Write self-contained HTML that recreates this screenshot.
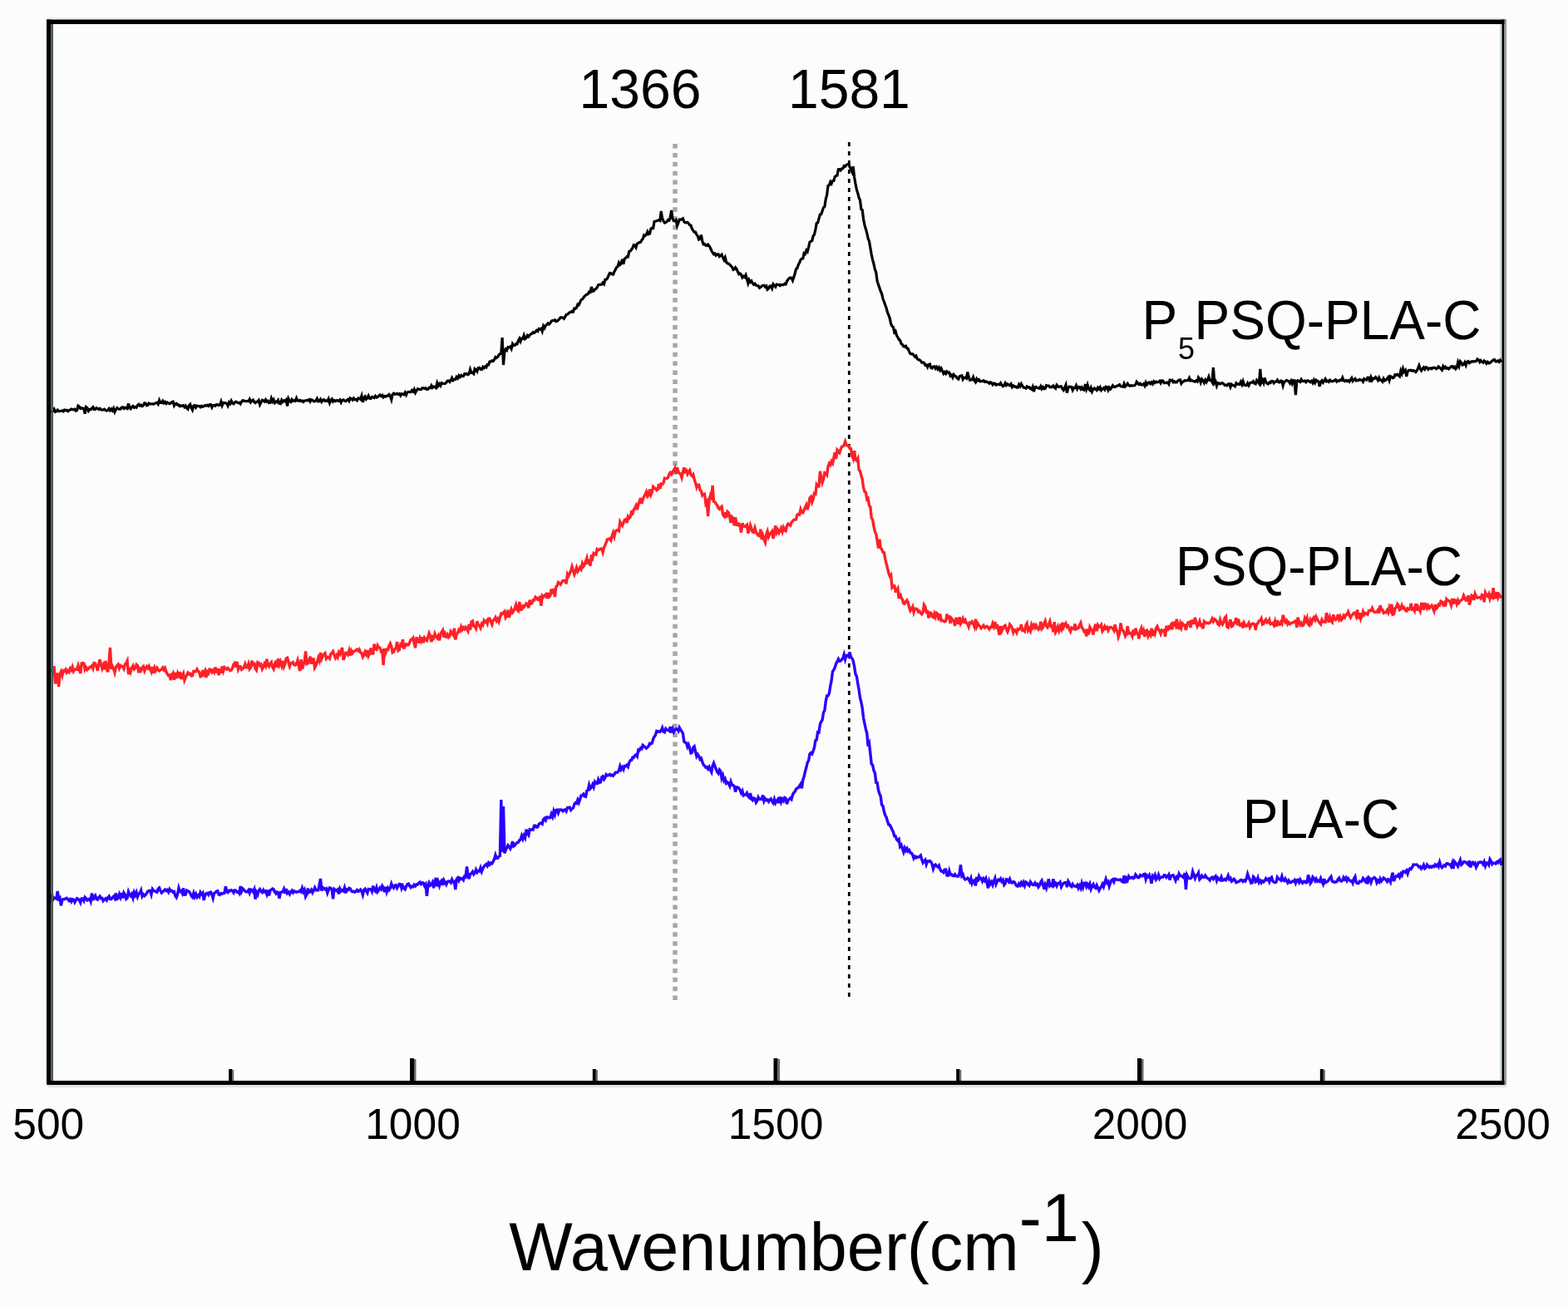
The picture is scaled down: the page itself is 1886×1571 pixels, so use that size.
<!DOCTYPE html>
<html><head><meta charset="utf-8"><style>
html,body{margin:0;padding:0;background:#fff;}
svg{display:block;}
text{font-family:"Liberation Sans",Arial,sans-serif;fill:#000;}
.tl{font-size:51.5px;}
.pk{font-size:66px;}
.lb{font-size:66px;}
.ax{font-size:81px;}
</style></head><body>
<svg width="1886" height="1571" viewBox="0 0 1886 1571">
<rect width="1886" height="1571" fill="#fcfcfc"/>
<rect x="58" y="21" width="1750" height="2" fill="#ececec"/>
<rect x="58" y="1305" width="1754" height="3" fill="#dfe3e3"/>
<rect x="1804" y="29" width="2.5" height="1271" fill="#cfdcdc"/>
<line x1="812" y1="173" x2="812" y2="1205" stroke="#a6a6a6" stroke-width="5.5" stroke-dasharray="5.5 5.4"/>
<line x1="1021.3" y1="171" x2="1021.3" y2="1204" stroke="#000" stroke-width="2.8" stroke-dasharray="5 6"/>
<polyline points="61.0,494.5 62.4,495.2 63.8,494.5 65.1,492.2 66.5,495.3 67.9,494.6 69.2,493.2 70.6,494.8 72.0,494.5 73.4,494.4 74.8,494.0 76.1,494.8 77.5,493.0 78.9,493.8 80.2,493.3 81.6,494.6 83.0,493.6 84.4,493.0 85.8,492.1 87.1,492.6 88.5,492.8 89.9,492.2 91.2,494.2 92.6,493.6 94.0,488.2 95.4,489.2 96.8,491.4 98.1,490.8 99.5,491.5 100.9,491.3 102.2,497.6 103.6,489.7 105.0,490.8 106.4,494.3 107.8,492.5 109.1,492.7 110.5,491.1 111.9,489.7 113.2,492.6 114.6,492.4 116.0,490.6 117.4,491.5 118.8,492.5 120.1,491.4 121.5,492.7 122.9,493.1 124.2,493.0 125.6,492.2 127.0,493.7 128.4,494.1 129.8,493.3 131.1,491.6 132.5,493.7 133.9,492.0 135.2,493.9 136.6,491.1 138.0,495.4 139.4,492.5 140.8,490.6 142.1,491.8 143.5,492.1 144.9,492.2 146.2,490.2 147.6,489.8 149.0,491.5 150.4,490.3 151.8,491.1 153.1,491.6 154.5,485.3 155.9,490.5 157.2,491.7 158.6,489.4 160.0,488.4 161.4,490.4 162.8,489.5 164.1,490.2 165.5,487.6 166.9,486.4 168.2,488.0 169.6,487.3 171.0,488.7 172.4,487.6 173.8,484.8 175.1,485.1 176.5,487.7 177.9,487.2 179.2,485.1 180.6,485.7 182.0,486.0 183.4,485.8 184.8,486.2 186.1,485.3 187.5,484.7 188.9,484.4 190.2,486.2 191.6,481.5 193.0,484.4 194.4,484.6 195.8,482.4 197.1,484.8 198.5,483.4 199.9,485.4 201.2,484.0 202.6,485.0 204.0,485.7 205.4,484.9 206.8,483.6 208.1,483.1 209.5,488.0 210.9,485.8 212.2,485.4 213.6,487.0 215.0,486.9 216.4,488.7 217.8,488.0 219.1,488.3 220.5,487.7 221.9,489.8 223.2,488.1 224.6,490.8 226.0,492.1 227.4,487.7 228.8,486.3 230.1,490.6 231.5,493.2 232.9,488.1 234.2,487.7 235.6,490.2 237.0,488.1 238.4,488.5 239.8,488.6 241.1,489.8 242.5,488.4 243.9,489.3 245.2,488.5 246.6,487.5 248.0,488.2 249.4,487.2 250.8,488.4 252.1,486.7 253.5,486.6 254.9,490.0 256.2,487.7 257.6,487.5 259.0,488.2 260.4,486.7 261.8,486.8 263.1,487.6 264.5,487.2 265.9,483.1 267.2,487.7 268.6,484.5 270.0,484.7 271.4,484.8 272.8,485.3 274.1,488.0 275.5,483.9 276.9,485.6 278.2,482.1 279.6,484.8 281.0,485.8 282.4,484.0 283.8,483.2 285.1,484.1 286.5,484.5 287.9,484.2 289.2,485.8 290.6,483.1 292.0,481.7 293.4,482.3 294.8,482.4 296.1,482.7 297.5,482.5 298.9,482.8 300.2,480.3 301.6,483.8 303.0,481.9 304.4,481.0 305.8,483.6 307.1,484.6 308.5,483.4 309.9,483.0 311.2,481.5 312.6,486.8 314.0,484.1 315.4,481.2 316.8,481.8 318.1,483.0 319.5,480.7 320.9,483.2 322.2,482.3 323.6,484.7 325.0,484.3 326.4,479.2 327.8,483.0 329.1,480.7 330.5,484.5 331.9,483.1 333.2,483.7 334.6,481.4 336.0,485.4 337.4,485.7 338.8,481.3 340.1,483.3 341.5,481.8 342.9,482.7 344.2,481.0 345.6,488.5 347.0,479.7 348.4,482.3 349.8,483.4 351.1,480.6 352.5,482.3 353.9,481.8 355.2,482.4 356.6,478.9 358.0,481.9 359.4,482.2 360.8,481.5 362.1,482.6 363.5,482.1 364.9,483.5 366.2,482.0 367.6,482.0 369.0,481.5 370.4,481.7 371.8,480.6 373.1,483.1 374.5,480.8 375.9,481.3 377.2,482.8 378.6,482.9 380.0,481.8 381.4,479.5 382.8,482.9 384.1,482.6 385.5,480.3 386.9,483.3 388.2,481.3 389.6,480.7 391.0,482.4 392.4,482.0 393.8,482.5 395.1,479.9 396.5,484.7 397.9,481.3 399.2,480.0 400.6,483.0 402.0,481.6 403.4,482.6 404.8,481.6 406.1,481.9 407.5,482.4 408.9,481.0 410.2,484.1 411.6,481.4 413.0,480.8 414.4,482.1 415.8,482.6 417.1,481.5 418.5,480.5 419.9,482.4 421.2,478.9 422.6,479.7 424.0,481.1 425.4,478.9 426.8,480.7 428.1,480.4 429.5,481.6 430.9,478.9 432.2,479.1 433.6,480.3 435.0,476.2 436.4,483.8 437.8,478.3 439.1,476.9 440.5,480.2 441.9,478.8 443.2,476.1 444.6,479.3 446.0,479.5 447.4,477.5 448.8,477.6 450.1,478.5 451.5,476.4 452.9,478.1 454.2,477.6 455.6,476.2 457.0,475.0 458.4,476.5 459.8,475.4 461.1,477.8 462.5,476.5 463.9,477.2 465.2,476.1 466.6,476.1 468.0,474.5 469.4,476.4 470.8,480.7 472.1,474.6 473.5,473.1 474.9,474.3 476.2,473.9 477.6,473.4 479.0,474.4 480.4,473.7 481.8,475.9 483.1,473.7 484.5,474.0 485.9,474.7 487.2,472.3 488.6,475.1 490.0,471.9 491.4,471.3 492.8,471.6 494.1,471.6 495.5,469.5 496.9,471.0 498.2,468.4 499.6,472.4 501.0,470.0 502.4,467.8 503.8,468.1 505.1,468.5 506.5,468.4 507.9,466.9 509.2,466.8 510.6,467.5 512.0,466.7 513.4,468.4 514.8,468.3 516.1,466.4 517.5,466.7 518.9,463.8 520.2,466.3 521.6,465.0 523.0,465.4 524.4,466.6 525.8,460.8 527.1,464.1 528.5,461.8 529.9,463.9 531.2,460.6 532.6,461.2 534.0,461.5 535.4,461.5 536.8,460.1 538.1,458.3 539.5,458.0 540.9,459.5 542.2,457.6 543.6,454.6 545.0,457.6 546.4,456.4 547.8,456.4 549.1,453.5 550.5,455.1 551.9,451.9 553.2,453.6 554.6,451.5 556.0,452.6 557.4,452.5 558.8,449.6 560.1,450.0 561.5,449.6 562.9,450.7 564.2,449.6 565.6,444.3 567.0,448.2 568.4,448.1 569.8,449.5 571.1,443.7 572.5,444.8 573.9,446.9 575.2,442.6 576.6,442.3 578.0,444.2 579.4,444.4 580.8,441.5 582.1,442.7 583.5,440.9 584.9,441.8 586.2,438.5 587.6,438.8 589.0,435.0 590.4,434.9 591.8,433.9 593.1,434.5 594.5,432.6 595.9,429.6 597.2,430.5 598.6,429.5 600.0,426.9 601.4,425.8 602.8,424.8 604.1,406.0 605.5,439.0 606.9,422.5 608.2,420.0 609.6,421.4 611.0,417.5 612.4,417.8 613.8,417.0 615.1,419.5 616.5,413.6 617.9,415.7 619.2,415.4 620.6,413.7 622.0,413.9 623.4,410.0 624.8,407.3 626.1,410.6 627.5,407.0 628.9,407.3 630.2,403.3 631.6,407.6 633.0,406.5 634.4,403.5 635.8,404.9 637.1,403.0 638.5,401.8 639.9,401.3 641.2,399.8 642.6,400.4 644.0,399.2 645.4,397.4 646.8,398.5 648.1,395.4 649.5,395.9 650.9,395.2 652.2,398.4 653.6,392.3 655.0,394.6 656.4,391.6 657.8,390.4 659.1,389.0 660.5,390.1 661.9,388.6 663.2,386.3 664.6,385.6 666.0,385.7 667.4,384.9 668.8,386.7 670.1,386.4 671.5,385.0 672.9,383.6 674.2,381.8 675.6,381.8 677.0,382.2 678.4,383.3 679.8,380.9 681.1,378.5 682.5,378.3 683.9,376.9 685.2,375.8 686.6,375.5 688.0,374.4 689.4,375.1 690.8,371.0 692.1,371.2 693.5,370.1 694.9,366.2 696.2,366.7 697.6,363.8 699.0,360.6 700.4,360.0 701.8,358.2 703.1,356.4 704.5,355.0 705.9,354.1 707.2,353.7 708.6,351.1 710.0,351.5 711.4,345.0 712.8,350.3 714.1,350.0 715.5,348.1 716.9,347.4 718.2,345.9 719.6,342.8 721.0,342.3 722.4,342.3 723.8,342.0 725.1,340.1 726.5,341.7 727.9,336.3 729.2,336.2 730.6,334.8 732.0,331.5 733.4,328.5 734.8,328.6 736.1,329.8 737.5,330.1 738.9,326.8 740.2,324.5 741.6,321.6 743.0,320.8 744.4,316.0 745.8,318.4 747.1,317.1 748.5,311.9 749.9,317.8 751.2,311.4 752.6,310.4 754.0,308.7 755.4,308.9 756.8,302.3 758.1,302.0 759.5,300.2 760.9,298.2 762.2,294.6 763.6,295.0 765.0,297.6 766.4,292.9 767.8,292.4 769.1,291.6 770.5,291.3 771.9,288.8 773.2,287.5 774.6,282.9 776.0,283.6 777.4,282.4 778.8,278.9 780.1,281.7 781.5,281.1 782.9,275.1 784.2,274.5 785.6,274.7 787.0,266.4 788.4,266.3 789.8,265.5 791.1,265.5 792.5,264.7 793.9,265.5 795.2,254.0 796.6,262.8 798.0,265.8 799.4,268.1 800.8,267.6 802.1,266.7 803.5,264.5 804.9,265.1 806.2,261.5 807.6,253.0 809.0,262.9 810.4,265.7 811.8,265.9 813.1,264.8 814.5,271.5 815.9,268.0 817.2,264.1 818.6,264.4 820.0,263.6 821.4,262.8 822.8,266.8 824.1,267.8 825.5,267.6 826.9,267.4 828.2,268.7 829.6,270.9 831.0,271.2 832.4,275.2 833.8,277.3 835.1,279.2 836.5,279.2 837.9,282.2 839.2,283.9 840.6,288.1 842.0,287.3 843.4,282.6 844.8,290.3 846.1,293.8 847.5,293.5 848.9,295.3 850.2,295.6 851.6,294.1 853.0,295.9 854.4,298.3 855.8,301.5 857.1,303.7 858.5,305.8 859.9,304.9 861.2,307.2 862.6,305.9 864.0,305.7 865.4,308.5 866.8,307.4 868.1,306.2 869.5,309.8 870.9,312.7 872.2,309.8 873.6,315.2 875.0,316.9 876.4,317.0 877.8,318.5 879.1,319.8 880.5,321.2 881.9,324.4 883.2,323.9 884.6,321.8 886.0,323.5 887.4,326.8 888.8,329.8 890.1,329.0 891.5,330.3 892.9,333.8 894.2,332.4 895.6,333.4 897.0,330.8 898.4,335.7 899.8,340.8 901.1,336.8 902.5,339.3 903.9,337.9 905.2,340.6 906.6,342.3 908.0,341.3 909.4,343.2 910.8,343.8 912.1,343.9 913.5,346.3 914.9,345.5 916.2,344.1 917.6,343.5 919.0,343.3 920.4,345.2 921.8,344.0 923.1,348.3 924.5,347.1 925.9,344.2 927.2,344.0 928.6,346.9 930.0,341.8 931.4,343.5 932.8,345.1 934.1,342.2 935.5,342.5 936.9,342.4 938.2,343.6 939.6,342.5 941.0,342.6 942.4,342.6 943.8,341.4 945.1,341.9 946.5,338.3 947.9,336.3 949.2,334.8 950.6,334.0 952.0,334.4 953.4,337.4 954.8,333.4 956.1,329.3 957.5,323.5 958.9,322.6 960.2,318.6 961.6,316.1 963.0,312.4 964.4,311.2 965.8,310.9 967.1,304.6 968.5,305.5 969.9,301.1 971.2,302.6 972.6,297.4 974.0,291.2 975.4,290.3 976.8,289.5 978.1,283.9 979.5,282.1 980.9,276.0 982.2,268.6 983.6,267.9 985.0,262.9 986.4,258.0 987.8,257.7 989.1,253.7 990.5,249.6 991.9,248.5 993.2,239.5 994.6,234.7 996.0,223.4 997.4,222.8 998.8,218.9 1000.1,220.9 1001.5,217.5 1002.9,217.5 1004.2,212.7 1005.6,211.5 1007.0,211.1 1008.4,203.7 1009.8,203.6 1011.1,204.9 1012.5,203.0 1013.9,202.6 1015.2,199.7 1016.6,200.3 1018.0,198.5 1019.4,197.6 1020.8,197.1 1022.1,200.8 1023.5,203.5 1024.9,206.7 1026.2,200.1 1027.6,213.0 1029.0,221.1 1030.4,228.2 1031.8,232.5 1033.1,237.7 1034.5,240.8 1035.9,251.9 1037.2,252.5 1038.6,263.7 1040.0,270.9 1041.4,275.4 1042.8,280.5 1044.1,286.9 1045.5,290.3 1046.9,298.6 1048.2,306.0 1049.6,312.3 1051.0,317.7 1052.4,324.1 1053.8,328.0 1055.1,338.0 1056.5,342.4 1057.9,346.2 1059.2,350.3 1060.6,353.3 1062.0,359.6 1063.4,363.0 1064.8,367.0 1066.1,370.5 1067.5,376.0 1068.9,379.2 1070.2,382.8 1071.6,389.4 1073.0,392.5 1074.4,393.5 1075.8,399.7 1077.1,398.4 1078.5,403.5 1079.9,405.7 1081.2,408.5 1082.6,409.2 1084.0,413.5 1085.4,414.4 1086.8,416.8 1088.1,417.0 1089.5,416.2 1090.9,419.0 1092.2,419.3 1093.6,423.0 1095.0,425.6 1096.4,425.8 1097.8,425.8 1099.1,427.3 1100.5,429.2 1101.9,428.1 1103.2,431.5 1104.6,432.7 1106.0,432.8 1107.4,434.2 1108.8,436.2 1110.1,435.9 1111.5,436.5 1112.9,439.3 1114.2,439.1 1115.6,441.7 1117.0,438.5 1118.4,438.0 1119.8,442.4 1121.1,443.0 1122.5,441.2 1123.9,440.8 1125.2,443.3 1126.6,441.5 1128.0,444.1 1129.4,442.1 1130.8,445.3 1132.1,443.2 1133.5,446.4 1134.9,449.4 1136.2,447.5 1137.6,449.5 1139.0,446.9 1140.4,448.3 1141.8,448.0 1143.1,452.1 1144.5,451.1 1145.9,454.0 1147.2,450.6 1148.6,452.3 1150.0,453.0 1151.4,455.1 1152.8,456.0 1154.1,452.8 1155.5,452.3 1156.9,451.8 1158.2,456.3 1159.6,454.3 1161.0,454.0 1162.4,455.1 1163.8,447.5 1165.1,453.3 1166.5,457.3 1167.9,456.8 1169.2,456.7 1170.6,453.6 1172.0,457.8 1173.4,459.7 1174.8,455.8 1176.1,457.8 1177.5,456.6 1178.9,458.8 1180.2,458.6 1181.6,458.6 1183.0,457.8 1184.4,459.3 1185.8,458.7 1187.1,459.6 1188.5,460.0 1189.9,461.3 1191.2,459.8 1192.6,460.4 1194.0,462.7 1195.4,461.1 1196.8,461.3 1198.1,463.1 1199.5,462.4 1200.9,462.3 1202.2,462.6 1203.6,460.7 1205.0,463.2 1206.4,464.6 1207.8,463.6 1209.1,460.8 1210.5,463.5 1211.9,462.0 1213.2,463.0 1214.6,463.7 1216.0,461.9 1217.4,465.6 1218.8,463.8 1220.1,465.1 1221.5,465.0 1222.9,466.1 1224.2,466.1 1225.6,462.5 1227.0,464.7 1228.4,461.8 1229.8,464.3 1231.1,466.0 1232.5,466.4 1233.9,467.1 1235.2,464.9 1236.6,466.0 1238.0,465.8 1239.4,467.6 1240.8,468.2 1242.1,465.4 1243.5,471.2 1244.9,465.8 1246.2,465.3 1247.6,466.6 1249.0,466.8 1250.4,467.3 1251.8,464.7 1253.1,467.7 1254.5,465.6 1255.9,467.7 1257.2,467.4 1258.6,463.7 1260.0,464.0 1261.4,464.0 1262.8,465.7 1264.1,465.4 1265.5,465.6 1266.9,464.1 1268.2,465.8 1269.6,467.1 1271.0,463.2 1272.4,464.8 1273.8,465.4 1275.1,464.8 1276.5,464.8 1277.9,467.7 1279.2,469.3 1280.6,466.7 1282.0,463.2 1283.4,472.6 1284.8,466.3 1286.1,465.1 1287.5,465.6 1288.9,465.5 1290.2,469.3 1291.6,466.7 1293.0,466.7 1294.4,463.7 1295.8,467.8 1297.1,465.4 1298.5,465.5 1299.9,468.0 1301.2,466.1 1302.6,468.6 1304.0,469.1 1305.4,462.1 1306.8,467.6 1308.1,463.0 1309.5,467.9 1310.9,469.4 1312.2,466.4 1313.6,470.9 1315.0,468.1 1316.4,467.0 1317.8,468.4 1319.1,469.5 1320.5,466.3 1321.9,468.0 1323.2,465.9 1324.6,469.4 1326.0,467.7 1327.4,466.7 1328.8,468.6 1330.1,465.1 1331.5,465.5 1332.9,469.2 1334.2,466.2 1335.6,468.1 1337.0,466.3 1338.4,463.7 1339.8,465.3 1341.1,465.6 1342.5,464.7 1343.9,464.0 1345.2,463.8 1346.6,462.7 1348.0,464.7 1349.4,464.9 1350.8,465.2 1352.1,461.5 1353.5,465.0 1354.9,463.6 1356.2,461.5 1357.6,463.5 1359.0,464.2 1360.4,463.7 1361.8,463.8 1363.1,464.0 1364.5,463.8 1365.9,462.4 1367.2,459.4 1368.6,461.1 1370.0,462.6 1371.4,461.3 1372.8,462.8 1374.1,462.8 1375.5,461.7 1376.9,464.1 1378.2,460.0 1379.6,462.5 1381.0,460.5 1382.4,459.9 1383.8,461.7 1385.1,459.9 1386.5,461.8 1387.9,458.9 1389.2,460.4 1390.6,459.1 1392.0,459.8 1393.4,459.5 1394.8,458.3 1396.1,460.7 1397.5,457.9 1398.9,458.2 1400.2,460.7 1401.6,460.7 1403.0,460.1 1404.4,460.1 1405.8,462.1 1407.1,457.1 1408.5,457.7 1409.9,457.2 1411.2,459.7 1412.6,458.8 1414.0,460.0 1415.4,459.7 1416.8,458.0 1418.1,457.2 1419.5,456.9 1420.9,461.3 1422.2,459.6 1423.6,459.0 1425.0,457.7 1426.4,457.8 1427.8,457.6 1429.1,457.6 1430.5,454.7 1431.9,457.9 1433.2,457.4 1434.6,458.3 1436.0,458.5 1437.4,459.1 1438.8,457.8 1440.1,458.9 1441.5,454.2 1442.9,456.2 1444.2,460.1 1445.6,456.1 1447.0,457.6 1448.4,460.4 1449.8,457.2 1451.1,459.6 1452.5,456.8 1453.9,453.1 1455.2,457.4 1456.6,457.2 1458.0,459.7 1459.4,442.0 1460.8,460.6 1462.1,458.9 1463.5,464.1 1464.9,460.6 1466.2,460.9 1467.6,461.8 1469.0,461.0 1470.4,460.7 1471.8,461.9 1473.1,463.3 1474.5,463.2 1475.9,463.8 1477.2,461.9 1478.6,461.7 1480.0,465.6 1481.4,462.4 1482.8,463.5 1484.1,463.8 1485.5,464.8 1486.9,460.9 1488.2,462.1 1489.6,462.2 1491.0,462.4 1492.4,459.4 1493.8,462.6 1495.1,458.7 1496.5,463.2 1497.9,463.5 1499.2,463.6 1500.6,461.0 1502.0,463.7 1503.4,460.9 1504.8,460.1 1506.1,460.2 1507.5,458.7 1508.9,461.3 1510.2,461.9 1511.6,457.5 1513.0,459.4 1514.4,461.2 1515.8,444.0 1517.1,460.1 1518.5,457.3 1519.9,460.7 1521.2,454.5 1522.6,459.6 1524.0,461.2 1525.4,461.9 1526.8,460.0 1528.1,460.5 1529.5,458.4 1530.9,458.5 1532.2,460.8 1533.6,459.2 1535.0,459.0 1536.4,457.2 1537.8,459.6 1539.1,460.0 1540.5,458.0 1541.9,458.4 1543.2,463.9 1544.6,459.3 1546.0,458.6 1547.4,457.4 1548.8,458.1 1550.1,458.6 1551.5,460.9 1552.9,458.1 1554.2,461.4 1555.6,457.6 1557.0,457.8 1558.4,475.0 1559.8,458.5 1561.1,457.7 1562.5,458.6 1563.9,459.4 1565.2,456.4 1566.6,458.4 1568.0,458.6 1569.4,458.1 1570.8,459.7 1572.1,457.9 1573.5,458.1 1574.9,458.7 1576.2,459.6 1577.6,458.3 1579.0,460.7 1580.4,457.3 1581.8,460.3 1583.1,457.3 1584.5,458.3 1585.9,459.0 1587.2,464.8 1588.6,459.6 1590.0,457.8 1591.4,460.1 1592.8,457.9 1594.1,455.8 1595.5,458.8 1596.9,458.2 1598.2,459.4 1599.6,457.2 1601.0,458.5 1602.4,458.8 1603.8,458.3 1605.1,457.8 1606.5,456.8 1607.9,459.0 1609.2,457.9 1610.6,458.3 1612.0,457.1 1613.4,457.6 1614.8,454.3 1616.1,457.6 1617.5,458.5 1618.9,457.5 1620.2,458.5 1621.6,457.7 1623.0,459.1 1624.4,456.9 1625.8,454.8 1627.1,458.4 1628.5,456.8 1629.9,455.6 1631.2,457.9 1632.6,457.3 1634.0,457.5 1635.4,456.4 1636.8,457.1 1638.1,457.1 1639.5,459.2 1640.9,455.7 1642.2,456.6 1643.6,457.1 1645.0,454.2 1646.4,454.3 1647.8,459.6 1649.1,454.0 1650.5,457.3 1651.9,455.2 1653.2,455.3 1654.6,453.6 1656.0,455.1 1657.4,457.4 1658.8,454.3 1660.1,457.1 1661.5,457.2 1662.9,459.0 1664.2,455.5 1665.6,457.9 1667.0,457.3 1668.4,455.6 1669.8,453.7 1671.1,457.6 1672.5,452.8 1673.9,453.4 1675.2,454.6 1676.6,454.2 1678.0,450.8 1679.4,451.3 1680.8,450.3 1682.1,451.6 1683.5,452.8 1684.9,446.0 1686.2,449.2 1687.6,443.4 1689.0,447.2 1690.4,445.5 1691.8,453.0 1693.1,446.9 1694.5,445.4 1695.9,445.6 1697.2,445.3 1698.6,446.1 1700.0,445.5 1701.4,446.4 1702.8,447.5 1704.1,446.1 1705.5,443.2 1706.9,439.7 1708.2,443.5 1709.6,445.8 1711.0,443.7 1712.4,441.9 1713.8,444.1 1715.1,441.8 1716.5,442.1 1717.9,444.3 1719.2,443.1 1720.6,442.8 1722.0,443.7 1723.4,442.4 1724.8,442.1 1726.1,442.4 1727.5,443.7 1728.9,442.9 1730.2,441.0 1731.6,442.2 1733.0,443.4 1734.4,445.0 1735.8,440.7 1737.1,442.7 1738.5,441.3 1739.9,443.2 1741.2,442.6 1742.6,443.9 1744.0,442.5 1745.4,440.9 1746.8,440.6 1748.1,442.3 1749.5,441.2 1750.9,443.7 1752.2,442.3 1753.6,436.0 1755.0,440.3 1756.4,434.7 1757.8,436.1 1759.1,439.1 1760.5,438.5 1761.9,435.9 1763.2,439.3 1764.6,435.3 1766.0,434.6 1767.4,436.8 1768.8,435.8 1770.1,434.9 1771.5,434.7 1772.9,435.1 1774.2,434.5 1775.6,434.5 1777.0,432.0 1778.4,432.8 1779.8,435.5 1781.1,433.6 1782.5,435.3 1783.9,436.2 1785.2,434.0 1786.6,434.8 1788.0,437.3 1789.4,435.4 1790.8,436.9 1792.1,436.5 1793.5,435.3 1794.9,434.1 1796.2,433.0 1797.6,432.6 1799.0,434.8 1800.4,434.8 1801.8,433.9 1803.1,435.3 1804.5,433.2 1805.9,435.6" fill="none" stroke="#000" stroke-width="3.2" stroke-linejoin="miter"/>
<polyline points="61.0,808.6 62.4,806.5 63.8,807.3 65.1,801.4 66.5,822.4 67.9,813.9 69.2,809.7 70.6,826.0 72.0,811.2 73.4,808.1 74.8,812.5 76.1,806.7 77.5,807.4 78.9,805.4 80.2,808.9 81.6,806.7 83.0,808.3 84.4,804.1 85.8,806.0 87.1,802.3 88.5,807.4 89.9,805.0 91.2,805.2 92.6,805.3 94.0,800.6 95.4,806.1 96.8,810.0 98.1,798.0 99.5,797.5 100.9,798.0 102.2,805.3 103.6,802.9 105.0,805.7 106.4,804.4 107.8,802.5 109.1,802.6 110.5,800.9 111.9,804.1 113.2,797.5 114.6,798.0 116.0,801.8 117.4,806.8 118.8,798.6 120.1,793.4 121.5,799.2 122.9,804.1 124.2,800.2 125.6,805.2 127.0,795.0 128.4,804.6 129.8,808.3 131.1,796.5 132.5,779.0 133.9,805.0 135.2,801.5 136.6,804.5 138.0,809.0 139.4,802.4 140.8,800.7 142.1,799.3 143.5,803.9 144.9,800.6 146.2,801.5 147.6,801.9 149.0,804.4 150.4,799.0 151.8,797.7 153.1,794.9 154.5,811.2 155.9,803.1 157.2,807.8 158.6,803.1 160.0,800.8 161.4,804.8 162.8,803.1 164.1,799.4 165.5,800.7 166.9,809.2 168.2,804.8 169.6,806.7 171.0,803.0 172.4,801.7 173.8,806.9 175.1,803.8 176.5,801.7 177.9,803.8 179.2,801.4 180.6,805.0 182.0,808.1 183.4,802.2 184.8,809.8 186.1,803.4 187.5,806.4 188.9,803.5 190.2,805.9 191.6,807.1 193.0,805.9 194.4,805.3 195.8,803.2 197.1,805.7 198.5,803.6 199.9,808.1 201.2,810.6 202.6,812.6 204.0,812.1 205.4,818.2 206.8,811.7 208.1,809.6 209.5,817.7 210.9,808.9 212.2,816.0 213.6,810.5 215.0,815.3 216.4,808.2 217.8,817.0 219.1,813.2 220.5,810.2 221.9,818.2 223.2,814.9 224.6,812.2 226.0,809.3 227.4,811.1 228.8,810.3 230.1,812.8 231.5,812.6 232.9,807.5 234.2,807.7 235.6,807.7 237.0,805.0 238.4,807.3 239.8,808.8 241.1,813.8 242.5,813.1 243.9,806.1 245.2,810.4 246.6,807.1 248.0,815.0 249.4,808.1 250.8,809.8 252.1,805.1 253.5,805.4 254.9,808.5 256.2,806.5 257.6,808.7 259.0,802.5 260.4,809.4 261.8,804.1 263.1,812.3 264.5,804.5 265.9,809.8 267.2,801.6 268.6,807.1 270.0,802.7 271.4,803.7 272.8,805.1 274.1,803.8 275.5,805.4 276.9,806.7 278.2,806.1 279.6,803.5 281.0,799.2 282.4,797.6 283.8,802.4 285.1,796.1 286.5,805.1 287.9,801.8 289.2,801.7 290.6,805.4 292.0,804.3 293.4,802.7 294.8,798.7 296.1,802.7 297.5,802.7 298.9,798.6 300.2,804.7 301.6,802.8 303.0,794.7 304.4,801.3 305.8,796.7 307.1,804.3 308.5,806.2 309.9,796.8 311.2,797.4 312.6,800.4 314.0,799.1 315.4,804.7 316.8,802.0 318.1,798.6 319.5,801.2 320.9,792.8 322.2,800.2 323.6,801.8 325.0,798.4 326.4,796.6 327.8,802.7 329.1,804.9 330.5,799.2 331.9,794.8 333.2,802.9 334.6,792.2 336.0,799.7 337.4,796.1 338.8,800.8 340.1,795.0 341.5,801.9 342.9,798.5 344.2,792.0 345.6,791.2 347.0,796.5 348.4,801.6 349.8,797.9 351.1,797.7 352.5,796.7 353.9,799.9 355.2,800.2 356.6,798.4 358.0,794.3 359.4,801.3 360.8,807.1 362.1,793.3 363.5,804.9 364.9,799.8 366.2,795.6 367.6,783.4 369.0,798.6 370.4,797.9 371.8,793.9 373.1,789.7 374.5,798.7 375.9,792.8 377.2,792.9 378.6,803.1 380.0,800.5 381.4,796.4 382.8,791.5 384.1,794.7 385.5,785.0 386.9,792.3 388.2,789.1 389.6,787.1 391.0,785.8 392.4,792.2 393.8,790.5 395.1,790.3 396.5,792.2 397.9,786.7 399.2,785.3 400.6,783.5 402.0,787.9 403.4,791.3 404.8,788.2 406.1,790.6 407.5,784.7 408.9,786.8 410.2,782.8 411.6,779.2 413.0,793.9 414.4,790.5 415.8,785.2 417.1,785.0 418.5,787.2 419.9,782.6 421.2,788.5 422.6,782.8 424.0,785.6 425.4,783.4 426.8,783.1 428.1,782.1 429.5,781.2 430.9,783.0 432.2,781.2 433.6,784.8 435.0,785.8 436.4,790.2 437.8,787.7 439.1,784.1 440.5,787.0 441.9,782.3 443.2,788.9 444.6,785.9 446.0,779.6 447.4,786.1 448.8,786.1 450.1,774.7 451.5,780.7 452.9,781.4 454.2,776.5 455.6,779.0 457.0,779.2 458.4,783.7 459.8,782.8 461.1,800.1 462.5,780.2 463.9,784.9 465.2,781.3 466.6,781.7 468.0,776.9 469.4,774.1 470.8,777.4 472.1,784.9 473.5,784.2 474.9,780.7 476.2,780.0 477.6,772.1 479.0,782.6 480.4,781.6 481.8,775.2 483.1,776.4 484.5,769.2 485.9,780.5 487.2,776.8 488.6,774.8 490.0,776.0 491.4,775.8 492.8,772.7 494.1,769.7 495.5,769.2 496.9,767.3 498.2,774.0 499.6,779.2 501.0,766.3 502.4,771.8 503.8,772.3 505.1,767.5 506.5,770.9 507.9,766.4 509.2,773.3 510.6,767.2 512.0,769.1 513.4,770.6 514.8,766.6 516.1,761.9 517.5,765.5 518.9,772.2 520.2,766.2 521.6,767.7 523.0,762.3 524.4,765.8 525.8,767.4 527.1,764.8 528.5,770.4 529.9,763.3 531.2,760.3 532.6,758.1 534.0,766.6 535.4,762.3 536.8,765.4 538.1,763.3 539.5,766.7 540.9,765.2 542.2,759.5 543.6,761.3 545.0,763.5 546.4,755.7 547.8,769.5 549.1,762.8 550.5,761.8 551.9,757.6 553.2,758.9 554.6,754.0 556.0,757.4 557.4,754.9 558.8,756.7 560.1,754.5 561.5,756.7 562.9,759.2 564.2,750.9 565.6,757.7 567.0,748.0 568.4,747.1 569.8,753.2 571.1,753.3 572.5,756.0 573.9,747.3 575.2,752.0 576.6,752.2 578.0,755.2 579.4,750.3 580.8,751.8 582.1,746.4 583.5,748.3 584.9,747.0 586.2,750.1 587.6,744.1 589.0,744.0 590.4,748.0 591.8,751.3 593.1,746.2 594.5,745.4 595.9,742.8 597.2,746.8 598.6,744.5 600.0,747.8 601.4,742.7 602.8,738.1 604.1,738.7 605.5,736.8 606.9,735.4 608.2,742.9 609.6,740.9 611.0,733.8 612.4,742.9 613.8,737.4 615.1,733.0 616.5,736.7 617.9,734.7 619.2,731.9 620.6,727.6 622.0,733.4 623.4,734.8 624.8,723.9 626.1,733.4 627.5,733.0 628.9,729.0 630.2,730.2 631.6,728.3 633.0,725.8 634.4,726.6 635.8,731.3 637.1,721.7 638.5,726.3 639.9,725.5 641.2,721.9 642.6,722.0 644.0,718.2 645.4,719.3 646.8,721.3 648.1,721.6 649.5,717.0 650.9,728.9 652.2,716.6 653.6,718.1 655.0,716.3 656.4,715.0 657.8,719.7 659.1,713.1 660.5,718.0 661.9,716.5 663.2,708.6 664.6,714.4 666.0,708.1 667.4,718.0 668.8,705.7 670.1,704.5 671.5,700.5 672.9,701.6 674.2,703.0 675.6,700.7 677.0,698.4 678.4,698.5 679.8,698.5 681.1,702.2 682.5,690.5 683.9,692.7 685.2,689.8 686.6,686.7 688.0,681.6 689.4,686.6 690.8,690.8 692.1,686.9 693.5,682.8 694.9,687.5 696.2,685.4 697.6,682.7 699.0,684.7 700.4,678.0 701.8,681.3 703.1,679.4 704.5,675.2 705.9,671.2 707.2,678.6 708.6,672.7 710.0,680.8 711.4,667.5 712.8,671.0 714.1,665.5 715.5,666.5 716.9,667.1 718.2,660.7 719.6,661.7 721.0,661.3 722.4,660.0 723.8,660.3 725.1,664.4 726.5,658.6 727.9,655.6 729.2,652.4 730.6,648.7 732.0,648.5 733.4,647.7 734.8,650.0 736.1,645.1 737.5,640.8 738.9,645.3 740.2,639.2 741.6,637.7 743.0,637.9 744.4,638.7 745.8,627.6 747.1,630.0 748.5,632.3 749.9,628.8 751.2,625.4 752.6,624.7 754.0,629.0 755.4,621.4 756.8,623.3 758.1,621.9 759.5,616.2 760.9,617.5 762.2,613.2 763.6,611.3 765.0,608.2 766.4,613.2 767.8,606.6 769.1,603.5 770.5,599.0 771.9,605.8 773.2,600.7 774.6,597.3 776.0,595.0 777.4,591.7 778.8,597.0 780.1,595.6 781.5,588.6 782.9,595.2 784.2,592.3 785.6,585.5 787.0,587.0 788.4,587.6 789.8,589.7 791.1,588.9 792.5,582.2 793.9,588.1 795.2,582.0 796.6,582.5 798.0,581.2 799.4,575.2 800.8,575.6 802.1,575.6 803.5,574.4 804.9,570.4 806.2,568.6 807.6,570.4 809.0,567.4 810.4,565.7 811.8,563.0 813.1,569.8 814.5,562.3 815.9,567.7 817.2,569.3 818.6,569.9 820.0,574.3 821.4,568.2 822.8,562.4 824.1,567.3 825.5,565.9 826.9,570.1 828.2,567.6 829.6,565.7 831.0,570.9 832.4,572.6 833.8,570.8 835.1,576.6 836.5,580.7 837.9,586.2 839.2,583.1 840.6,583.1 842.0,589.2 843.4,590.8 844.8,595.9 846.1,594.3 847.5,594.1 848.9,605.8 850.2,603.6 851.6,621.0 853.0,601.6 854.4,596.4 855.8,601.3 857.1,584.0 858.5,603.3 859.9,603.7 861.2,606.1 862.6,607.7 864.0,611.0 865.4,612.4 866.8,610.4 868.1,609.4 869.5,618.9 870.9,620.9 872.2,616.3 873.6,623.0 875.0,615.5 876.4,616.7 877.8,622.2 879.1,628.8 880.5,621.8 881.9,623.5 883.2,632.3 884.6,622.2 886.0,631.3 887.4,631.7 888.8,630.2 890.1,632.1 891.5,640.6 892.9,629.3 894.2,632.6 895.6,633.5 897.0,632.7 898.4,631.3 899.8,641.4 901.1,637.6 902.5,631.8 903.9,635.8 905.2,639.9 906.6,640.4 908.0,635.1 909.4,639.9 910.8,642.6 912.1,644.1 913.5,644.7 914.9,636.6 916.2,648.9 917.6,644.2 919.0,649.1 920.4,652.4 921.8,642.6 923.1,639.1 924.5,645.6 925.9,642.2 927.2,641.2 928.6,639.2 930.0,647.8 931.4,640.9 932.8,632.3 934.1,640.6 935.5,637.6 936.9,640.9 938.2,638.2 939.6,635.2 941.0,639.6 942.4,634.7 943.8,638.1 945.1,638.9 946.5,632.3 947.9,630.1 949.2,631.4 950.6,632.2 952.0,628.0 953.4,627.1 954.8,625.2 956.1,625.0 957.5,624.7 958.9,619.2 960.2,618.6 961.6,619.0 963.0,612.9 964.4,616.8 965.8,616.8 967.1,613.7 968.5,610.2 969.9,607.3 971.2,613.0 972.6,607.8 974.0,599.1 975.4,597.6 976.8,603.9 978.1,600.3 979.5,593.5 980.9,594.2 982.2,583.1 983.6,585.2 985.0,585.0 986.4,566.9 987.8,574.9 989.1,580.5 990.5,576.4 991.9,568.6 993.2,569.2 994.6,571.2 996.0,561.2 997.4,557.4 998.8,559.2 1000.1,555.1 1001.5,557.3 1002.9,550.5 1004.2,544.2 1005.6,552.0 1007.0,541.2 1008.4,542.8 1009.8,544.5 1011.1,540.7 1012.5,537.2 1013.9,537.0 1015.2,535.1 1016.6,531.2 1018.0,535.4 1019.4,535.9 1020.8,536.4 1022.1,539.5 1023.5,539.6 1024.9,548.4 1026.2,551.7 1027.6,542.3 1029.0,552.9 1030.4,554.1 1031.8,551.5 1033.1,565.2 1034.5,566.7 1035.9,572.3 1037.2,576.3 1038.6,586.7 1040.0,591.5 1041.4,592.5 1042.8,600.6 1044.1,599.5 1045.5,608.0 1046.9,610.0 1048.2,623.0 1049.6,625.2 1051.0,633.4 1052.4,639.5 1053.8,642.5 1055.1,650.0 1056.5,659.5 1057.9,648.8 1059.2,659.1 1060.6,660.6 1062.0,664.3 1063.4,664.7 1064.8,672.6 1066.1,677.8 1067.5,683.5 1068.9,689.8 1070.2,692.9 1071.6,691.4 1073.0,706.4 1074.4,704.4 1075.8,704.7 1077.1,711.1 1078.5,710.4 1079.9,707.9 1081.2,720.0 1082.6,713.5 1084.0,719.1 1085.4,721.0 1086.8,725.8 1088.1,726.2 1089.5,723.8 1090.9,722.1 1092.2,724.6 1093.6,730.9 1095.0,734.5 1096.4,732.0 1097.8,729.6 1099.1,736.3 1100.5,732.1 1101.9,732.2 1103.2,732.9 1104.6,735.9 1106.0,735.1 1107.4,737.7 1108.8,738.9 1110.1,736.6 1111.5,727.7 1112.9,730.0 1114.2,736.2 1115.6,735.7 1117.0,743.4 1118.4,737.0 1119.8,737.3 1121.1,741.4 1122.5,742.5 1123.9,738.0 1125.2,741.9 1126.6,737.4 1128.0,738.6 1129.4,746.2 1130.8,738.4 1132.1,746.5 1133.5,746.3 1134.9,747.0 1136.2,747.9 1137.6,747.2 1139.0,738.9 1140.4,743.0 1141.8,742.3 1143.1,749.9 1144.5,743.8 1145.9,745.5 1147.2,747.0 1148.6,752.8 1150.0,744.4 1151.4,744.7 1152.8,751.0 1154.1,742.2 1155.5,750.1 1156.9,747.5 1158.2,744.0 1159.6,747.7 1161.0,745.8 1162.4,749.5 1163.8,750.2 1165.1,753.8 1166.5,749.0 1167.9,749.6 1169.2,747.8 1170.6,750.0 1172.0,753.8 1173.4,744.7 1174.8,753.4 1176.1,750.0 1177.5,752.3 1178.9,753.5 1180.2,755.6 1181.6,754.1 1183.0,752.4 1184.4,755.0 1185.8,754.0 1187.1,753.3 1188.5,754.7 1189.9,756.8 1191.2,754.4 1192.6,754.5 1194.0,749.9 1195.4,753.6 1196.8,748.1 1198.1,756.3 1199.5,751.0 1200.9,758.1 1202.2,763.8 1203.6,753.1 1205.0,758.8 1206.4,756.0 1207.8,753.2 1209.1,752.4 1210.5,757.1 1211.9,760.0 1213.2,756.8 1214.6,751.1 1216.0,752.8 1217.4,755.6 1218.8,760.8 1220.1,757.6 1221.5,757.9 1222.9,760.9 1224.2,756.6 1225.6,757.2 1227.0,756.7 1228.4,751.3 1229.8,758.2 1231.1,757.8 1232.5,759.3 1233.9,752.1 1235.2,749.9 1236.6,758.3 1238.0,756.1 1239.4,759.1 1240.8,751.7 1242.1,754.8 1243.5,751.8 1244.9,754.9 1246.2,752.2 1247.6,755.4 1249.0,757.1 1250.4,755.7 1251.8,747.7 1253.1,756.4 1254.5,754.7 1255.9,749.8 1257.2,746.9 1258.6,753.0 1260.0,754.7 1261.4,751.4 1262.8,747.5 1264.1,753.5 1265.5,753.1 1266.9,760.3 1268.2,748.3 1269.6,760.7 1271.0,758.5 1272.4,754.1 1273.8,758.6 1275.1,753.9 1276.5,756.9 1277.9,748.9 1279.2,754.5 1280.6,751.2 1282.0,749.6 1283.4,754.0 1284.8,753.0 1286.1,757.2 1287.5,759.7 1288.9,755.3 1290.2,756.2 1291.6,756.5 1293.0,750.5 1294.4,756.7 1295.8,755.8 1297.1,755.5 1298.5,752.1 1299.9,749.2 1301.2,754.7 1302.6,756.5 1304.0,759.7 1305.4,758.9 1306.8,765.5 1308.1,756.4 1309.5,763.3 1310.9,754.4 1312.2,757.0 1313.6,757.9 1315.0,763.5 1316.4,755.6 1317.8,750.7 1319.1,759.1 1320.5,752.1 1321.9,754.4 1323.2,753.6 1324.6,751.7 1326.0,759.2 1327.4,757.1 1328.8,753.4 1330.1,755.9 1331.5,754.5 1332.9,758.2 1334.2,755.2 1335.6,754.3 1337.0,754.9 1338.4,755.9 1339.8,758.4 1341.1,751.3 1342.5,757.8 1343.9,759.7 1345.2,766.0 1346.6,761.6 1348.0,749.5 1349.4,757.7 1350.8,758.3 1352.1,760.9 1353.5,765.2 1354.9,762.8 1356.2,753.3 1357.6,761.9 1359.0,761.3 1360.4,762.3 1361.8,765.3 1363.1,757.5 1364.5,764.5 1365.9,755.7 1367.2,761.2 1368.6,762.2 1370.0,768.3 1371.4,758.8 1372.8,755.6 1374.1,763.2 1375.5,758.9 1376.9,766.0 1378.2,758.7 1379.6,758.2 1381.0,765.0 1382.4,761.6 1383.8,764.0 1385.1,755.8 1386.5,765.3 1387.9,757.7 1389.2,761.8 1390.6,755.6 1392.0,753.5 1393.4,757.2 1394.8,758.9 1396.1,762.3 1397.5,758.0 1398.9,758.8 1400.2,758.2 1401.6,765.7 1403.0,752.7 1404.4,758.9 1405.8,754.0 1407.1,755.0 1408.5,752.0 1409.9,757.2 1411.2,749.3 1412.6,749.0 1414.0,752.4 1415.4,744.8 1416.8,755.0 1418.1,755.6 1419.5,750.1 1420.9,754.9 1422.2,750.1 1423.6,751.9 1425.0,751.9 1426.4,757.8 1427.8,751.6 1429.1,748.6 1430.5,748.4 1431.9,755.0 1433.2,745.7 1434.6,749.4 1436.0,749.5 1437.4,742.8 1438.8,748.9 1440.1,753.5 1441.5,750.9 1442.9,747.1 1444.2,752.2 1445.6,751.5 1447.0,756.3 1448.4,747.4 1449.8,748.5 1451.1,749.8 1452.5,749.1 1453.9,749.8 1455.2,749.1 1456.6,747.2 1458.0,744.2 1459.4,747.5 1460.8,744.8 1462.1,745.8 1463.5,747.3 1464.9,750.6 1466.2,751.7 1467.6,745.6 1469.0,749.8 1470.4,751.3 1471.8,748.5 1473.1,743.4 1474.5,741.7 1475.9,754.0 1477.2,754.8 1478.6,749.5 1480.0,745.4 1481.4,753.6 1482.8,752.9 1484.1,749.1 1485.5,748.6 1486.9,743.2 1488.2,752.0 1489.6,744.6 1491.0,752.1 1492.4,752.4 1493.8,750.5 1495.1,755.4 1496.5,749.5 1497.9,752.6 1499.2,753.4 1500.6,751.7 1502.0,749.5 1503.4,754.7 1504.8,752.1 1506.1,750.1 1507.5,750.1 1508.9,751.0 1510.2,757.8 1511.6,750.8 1513.0,749.6 1514.4,746.9 1515.8,746.4 1517.1,744.1 1518.5,750.9 1519.9,750.2 1521.2,746.8 1522.6,745.2 1524.0,748.9 1525.4,748.2 1526.8,745.5 1528.1,750.7 1529.5,750.2 1530.9,749.5 1532.2,752.0 1533.6,747.4 1535.0,753.8 1536.4,746.1 1537.8,751.0 1539.1,751.3 1540.5,748.4 1541.9,750.3 1543.2,739.9 1544.6,744.2 1546.0,748.3 1547.4,746.5 1548.8,750.7 1550.1,748.8 1551.5,750.7 1552.9,749.6 1554.2,749.2 1555.6,748.8 1557.0,747.2 1558.4,746.9 1559.8,754.8 1561.1,742.6 1562.5,747.6 1563.9,751.3 1565.2,749.4 1566.6,752.5 1568.0,751.6 1569.4,743.8 1570.8,746.7 1572.1,743.2 1573.5,750.7 1574.9,752.1 1576.2,746.0 1577.6,749.1 1579.0,744.2 1580.4,742.5 1581.8,745.6 1583.1,741.9 1584.5,745.1 1585.9,747.5 1587.2,749.1 1588.6,750.8 1590.0,745.5 1591.4,748.0 1592.8,747.8 1594.1,748.1 1595.5,737.1 1596.9,743.7 1598.2,748.6 1599.6,742.4 1601.0,746.7 1602.4,748.4 1603.8,739.3 1605.1,744.5 1606.5,745.5 1607.9,744.3 1609.2,739.2 1610.6,744.8 1612.0,741.6 1613.4,745.7 1614.8,744.1 1616.1,740.6 1617.5,742.6 1618.9,739.5 1620.2,739.1 1621.6,736.0 1623.0,739.9 1624.4,742.9 1625.8,740.3 1627.1,739.2 1628.5,737.3 1629.9,737.3 1631.2,741.0 1632.6,733.5 1634.0,744.5 1635.4,737.4 1636.8,744.3 1638.1,741.0 1639.5,735.7 1640.9,739.3 1642.2,737.6 1643.6,738.1 1645.0,739.0 1646.4,734.6 1647.8,734.2 1649.1,734.7 1650.5,731.5 1651.9,734.9 1653.2,736.4 1654.6,736.3 1656.0,736.0 1657.4,733.9 1658.8,737.6 1660.1,728.3 1661.5,733.5 1662.9,733.6 1664.2,737.3 1665.6,736.5 1667.0,736.7 1668.4,734.1 1669.8,736.9 1671.1,730.6 1672.5,734.0 1673.9,726.9 1675.2,739.1 1676.6,738.6 1678.0,731.5 1679.4,730.6 1680.8,726.6 1682.1,728.3 1683.5,733.5 1684.9,732.6 1686.2,728.3 1687.6,731.3 1689.0,730.7 1690.4,734.3 1691.8,735.0 1693.1,732.0 1694.5,733.0 1695.9,732.5 1697.2,725.8 1698.6,733.0 1700.0,732.1 1701.4,734.7 1702.8,726.3 1704.1,734.6 1705.5,729.8 1706.9,732.4 1708.2,735.2 1709.6,726.3 1711.0,726.5 1712.4,733.6 1713.8,726.5 1715.1,726.8 1716.5,731.5 1717.9,728.7 1719.2,731.5 1720.6,729.7 1722.0,728.4 1723.4,731.4 1724.8,734.9 1726.1,727.3 1727.5,732.1 1728.9,730.7 1730.2,727.2 1731.6,728.0 1733.0,723.3 1734.4,724.0 1735.8,727.1 1737.1,725.3 1738.5,729.4 1739.9,720.8 1741.2,722.2 1742.6,722.6 1744.0,723.9 1745.4,727.9 1746.8,720.1 1748.1,726.5 1749.5,721.7 1750.9,722.3 1752.2,726.4 1753.6,722.0 1755.0,724.9 1756.4,722.9 1757.8,721.8 1759.1,721.0 1760.5,716.4 1761.9,719.3 1763.2,722.1 1764.6,722.0 1766.0,716.3 1767.4,727.5 1768.8,722.5 1770.1,716.3 1771.5,717.0 1772.9,721.7 1774.2,714.1 1775.6,717.1 1777.0,719.1 1778.4,718.6 1779.8,718.5 1781.1,719.7 1782.5,715.6 1783.9,716.4 1785.2,724.2 1786.6,712.9 1788.0,715.7 1789.4,717.2 1790.8,714.5 1792.1,720.3 1793.5,716.3 1794.9,718.2 1796.2,707.2 1797.6,719.1 1799.0,718.7 1800.4,712.3 1801.8,718.7 1803.1,715.1 1804.5,716.9 1805.9,719.5" fill="none" stroke="#ff2028" stroke-width="3.4" stroke-linejoin="miter"/>
<polyline points="61.0,1085.5 62.4,1075.4 63.8,1082.1 65.1,1080.0 66.5,1080.4 67.9,1081.0 69.2,1071.9 70.6,1081.3 72.0,1080.0 73.4,1089.3 74.8,1082.6 76.1,1081.5 77.5,1081.8 78.9,1081.0 80.2,1080.3 81.6,1081.6 83.0,1083.5 84.4,1081.8 85.8,1084.4 87.1,1081.7 88.5,1082.1 89.9,1085.4 91.2,1083.1 92.6,1080.7 94.0,1081.3 95.4,1082.8 96.8,1085.8 98.1,1080.9 99.5,1080.9 100.9,1083.5 102.2,1079.3 103.6,1080.5 105.0,1083.0 106.4,1082.3 107.8,1081.1 109.1,1084.2 110.5,1074.6 111.9,1083.1 113.2,1078.7 114.6,1077.1 116.0,1081.3 117.4,1082.2 118.8,1079.6 120.1,1078.2 121.5,1080.6 122.9,1080.4 124.2,1083.6 125.6,1082.1 127.0,1080.8 128.4,1082.8 129.8,1079.8 131.1,1078.2 132.5,1081.5 133.9,1081.5 135.2,1079.7 136.6,1078.4 138.0,1080.6 139.4,1074.5 140.8,1081.4 142.1,1080.7 143.5,1075.8 144.9,1079.3 146.2,1074.2 147.6,1080.3 149.0,1073.9 150.4,1076.2 151.8,1081.4 153.1,1080.2 154.5,1072.7 155.9,1076.1 157.2,1077.7 158.6,1075.4 160.0,1080.0 161.4,1073.6 162.8,1076.8 164.1,1073.4 165.5,1078.6 166.9,1075.2 168.2,1074.2 169.6,1071.0 171.0,1078.2 172.4,1075.9 173.8,1077.7 175.1,1076.4 176.5,1074.4 177.9,1072.1 179.2,1071.5 180.6,1071.4 182.0,1076.0 183.4,1069.5 184.8,1071.3 186.1,1071.7 187.5,1072.7 188.9,1073.3 190.2,1069.1 191.6,1067.9 193.0,1071.5 194.4,1074.0 195.8,1072.8 197.1,1071.4 198.5,1070.1 199.9,1071.5 201.2,1070.5 202.6,1073.0 204.0,1069.6 205.4,1071.8 206.8,1071.4 208.1,1073.1 209.5,1072.5 210.9,1077.8 212.2,1079.6 213.6,1075.8 215.0,1068.2 216.4,1072.2 217.8,1071.7 219.1,1074.4 220.5,1068.4 221.9,1076.2 223.2,1076.1 224.6,1071.1 226.0,1072.0 227.4,1072.5 228.8,1074.5 230.1,1077.6 231.5,1079.2 232.9,1074.4 234.2,1078.7 235.6,1075.5 237.0,1079.1 238.4,1077.0 239.8,1078.6 241.1,1073.3 242.5,1075.4 243.9,1073.9 245.2,1082.9 246.6,1077.0 248.0,1074.8 249.4,1074.4 250.8,1076.4 252.1,1073.7 253.5,1073.2 254.9,1076.2 256.2,1080.5 257.6,1074.4 259.0,1073.7 260.4,1072.3 261.8,1071.8 263.1,1075.9 264.5,1076.5 265.9,1074.6 267.2,1075.2 268.6,1074.5 270.0,1074.3 271.4,1066.3 272.8,1072.5 274.1,1073.5 275.5,1071.3 276.9,1071.7 278.2,1070.7 279.6,1071.5 281.0,1073.9 282.4,1070.9 283.8,1071.2 285.1,1073.1 286.5,1072.5 287.9,1074.5 289.2,1066.0 290.6,1072.2 292.0,1069.0 293.4,1070.4 294.8,1072.0 296.1,1072.7 297.5,1072.7 298.9,1070.8 300.2,1074.1 301.6,1070.1 303.0,1070.5 304.4,1072.7 305.8,1069.8 307.1,1081.6 308.5,1073.5 309.9,1076.1 311.2,1071.4 312.6,1069.7 314.0,1072.1 315.4,1073.4 316.8,1070.6 318.1,1072.8 319.5,1072.0 320.9,1075.7 322.2,1070.7 323.6,1077.3 325.0,1070.9 326.4,1070.2 327.8,1069.0 329.1,1069.8 330.5,1072.8 331.9,1074.8 333.2,1073.0 334.6,1074.0 336.0,1080.6 337.4,1073.4 338.8,1073.3 340.1,1072.3 341.5,1069.4 342.9,1074.7 344.2,1069.1 345.6,1074.4 347.0,1073.0 348.4,1075.5 349.8,1072.7 351.1,1071.2 352.5,1073.8 353.9,1071.8 355.2,1072.6 356.6,1073.1 358.0,1072.7 359.4,1072.6 360.8,1071.2 362.1,1072.6 363.5,1068.3 364.9,1072.7 366.2,1070.4 367.6,1078.4 369.0,1075.8 370.4,1068.7 371.8,1073.3 373.1,1072.7 374.5,1070.6 375.9,1073.7 377.2,1071.1 378.6,1067.8 380.0,1070.8 381.4,1070.7 382.8,1070.8 384.1,1064.3 385.5,1057.0 386.9,1071.6 388.2,1067.5 389.6,1068.6 391.0,1069.9 392.4,1068.9 393.8,1074.0 395.1,1070.6 396.5,1067.9 397.9,1068.4 399.2,1070.1 400.6,1081.3 402.0,1069.4 403.4,1070.5 404.8,1071.4 406.1,1070.2 407.5,1075.3 408.9,1069.2 410.2,1072.0 411.6,1070.7 413.0,1071.8 414.4,1067.8 415.8,1074.3 417.1,1069.9 418.5,1070.6 419.9,1068.4 421.2,1068.9 422.6,1071.8 424.0,1072.7 425.4,1072.2 426.8,1073.2 428.1,1072.2 429.5,1070.6 430.9,1072.3 432.2,1071.7 433.6,1070.1 435.0,1071.9 436.4,1076.4 437.8,1070.7 439.1,1069.3 440.5,1071.6 441.9,1074.1 443.2,1069.4 444.6,1069.6 446.0,1069.5 447.4,1072.4 448.8,1065.6 450.1,1070.4 451.5,1072.1 452.9,1067.6 454.2,1072.6 455.6,1070.5 457.0,1068.0 458.4,1069.6 459.8,1065.7 461.1,1067.8 462.5,1073.0 463.9,1066.8 465.2,1072.7 466.6,1068.3 468.0,1070.6 469.4,1068.3 470.8,1063.2 472.1,1066.7 473.5,1068.2 474.9,1065.1 476.2,1064.6 477.6,1068.2 479.0,1065.8 480.4,1063.4 481.8,1063.7 483.1,1068.7 484.5,1065.6 485.9,1068.6 487.2,1069.8 488.6,1066.3 490.0,1063.6 491.4,1063.1 492.8,1065.8 494.1,1067.6 495.5,1066.1 496.9,1066.6 498.2,1064.3 499.6,1065.8 501.0,1063.9 502.4,1064.1 503.8,1061.9 505.1,1061.1 506.5,1063.4 507.9,1061.8 509.2,1062.0 510.6,1065.5 512.0,1063.6 513.4,1077.8 514.8,1065.6 516.1,1062.0 517.5,1065.0 518.9,1063.9 520.2,1061.5 521.6,1068.2 523.0,1061.0 524.4,1055.9 525.8,1066.3 527.1,1060.9 528.5,1065.4 529.9,1060.6 531.2,1059.2 532.6,1064.9 534.0,1058.9 535.4,1061.5 536.8,1064.0 538.1,1060.8 539.5,1060.1 540.9,1060.3 542.2,1061.7 543.6,1057.8 545.0,1060.7 546.4,1060.4 547.8,1070.1 549.1,1057.6 550.5,1056.0 551.9,1059.2 553.2,1056.3 554.6,1057.4 556.0,1056.6 557.4,1058.5 558.8,1054.1 560.1,1054.9 561.5,1042.4 562.9,1052.4 564.2,1057.2 565.6,1051.5 567.0,1050.6 568.4,1048.6 569.8,1051.7 571.1,1050.0 572.5,1046.1 573.9,1049.4 575.2,1047.6 576.6,1047.9 578.0,1043.9 579.4,1048.3 580.8,1044.6 582.1,1042.4 583.5,1040.6 584.9,1039.5 586.2,1041.6 587.6,1038.1 589.0,1040.1 590.4,1038.0 591.8,1038.7 593.1,1036.5 594.5,1033.6 595.9,1028.6 597.2,1032.4 598.6,1032.4 600.0,1030.2 601.4,1029.5 602.8,962.0 604.1,1025.0 605.5,970.0 606.9,1026.4 608.2,1022.5 609.6,1019.9 611.0,1016.8 612.4,1018.4 613.8,1020.9 615.1,1017.7 616.5,1012.2 617.9,1017.9 619.2,1016.9 620.6,1014.9 622.0,1013.5 623.4,1013.2 624.8,1010.7 626.1,1009.9 627.5,1005.3 628.9,1009.1 630.2,1005.1 631.6,1007.8 633.0,997.7 634.4,1002.5 635.8,1004.5 637.1,997.8 638.5,998.3 639.9,997.8 641.2,998.1 642.6,993.3 644.0,993.3 645.4,995.1 646.8,994.8 648.1,991.4 649.5,990.6 650.9,990.0 652.2,991.1 653.6,985.7 655.0,984.3 656.4,986.6 657.8,983.0 659.1,983.2 660.5,983.8 661.9,983.7 663.2,979.3 664.6,982.5 666.0,975.9 667.4,980.0 668.8,974.4 670.1,974.2 671.5,977.9 672.9,974.1 674.2,973.9 675.6,974.3 677.0,975.8 678.4,974.3 679.8,973.9 681.1,975.9 682.5,971.5 683.9,971.6 685.2,971.1 686.6,974.4 688.0,972.8 689.4,971.9 690.8,967.5 692.1,965.7 693.5,966.4 694.9,962.2 696.2,965.5 697.6,961.6 699.0,957.0 700.4,956.8 701.8,955.2 703.1,957.8 704.5,958.3 705.9,951.3 707.2,950.5 708.6,944.3 710.0,948.7 711.4,947.1 712.8,943.7 714.1,946.7 715.5,940.4 716.9,942.3 718.2,942.4 719.6,937.8 721.0,941.4 722.4,941.0 723.8,934.8 725.1,933.9 726.5,937.4 727.9,935.2 729.2,931.7 730.6,932.9 732.0,932.5 733.4,931.5 734.8,932.8 736.1,932.0 737.5,933.2 738.9,931.5 740.2,929.2 741.6,929.2 743.0,929.0 744.4,926.8 745.8,921.7 747.1,925.5 748.5,923.0 749.9,925.6 751.2,921.4 752.6,921.6 754.0,920.3 755.4,922.3 756.8,917.3 758.1,914.7 759.5,914.4 760.9,911.1 762.2,911.3 763.6,908.8 765.0,907.8 766.4,909.8 767.8,902.0 769.1,902.5 770.5,899.8 771.9,900.6 773.2,896.4 774.6,897.5 776.0,898.9 777.4,900.2 778.8,898.8 780.1,897.7 781.5,894.3 782.9,894.7 784.2,894.1 785.6,889.1 787.0,886.2 788.4,884.2 789.8,879.6 791.1,880.3 792.5,879.7 793.9,880.2 795.2,878.8 796.6,875.5 798.0,880.0 799.4,880.8 800.8,876.6 802.1,878.1 803.5,878.0 804.9,879.2 806.2,874.3 807.6,881.3 809.0,876.8 810.4,880.7 811.8,878.1 813.1,876.8 814.5,877.2 815.9,879.3 817.2,875.2 818.6,877.8 820.0,879.9 821.4,882.0 822.8,892.2 824.1,893.0 825.5,893.7 826.9,898.4 828.2,895.8 829.6,899.8 831.0,905.8 832.4,905.2 833.8,899.2 835.1,897.9 836.5,904.0 837.9,909.7 839.2,907.4 840.6,909.5 842.0,913.3 843.4,912.1 844.8,916.6 846.1,919.9 847.5,921.3 848.9,923.2 850.2,922.6 851.6,924.9 853.0,922.6 854.4,926.2 855.8,928.8 857.1,921.3 858.5,917.9 859.9,921.6 861.2,925.0 862.6,928.4 864.0,930.3 865.4,926.0 866.8,927.8 868.1,936.3 869.5,932.9 870.9,939.0 872.2,937.1 873.6,942.3 875.0,941.1 876.4,942.3 877.8,945.5 879.1,940.3 880.5,944.2 881.9,944.5 883.2,946.1 884.6,952.5 886.0,947.0 887.4,947.2 888.8,948.2 890.1,950.3 891.5,953.7 892.9,951.4 894.2,956.8 895.6,956.0 897.0,956.0 898.4,954.0 899.8,957.8 901.1,959.2 902.5,954.2 903.9,961.1 905.2,962.6 906.6,960.1 908.0,960.8 909.4,965.4 910.8,963.3 912.1,959.0 913.5,961.3 914.9,961.2 916.2,961.4 917.6,956.6 919.0,963.6 920.4,960.7 921.8,962.5 923.1,962.0 924.5,964.3 925.9,961.9 927.2,960.9 928.6,964.0 930.0,966.0 931.4,961.4 932.8,965.9 934.1,963.4 935.5,961.6 936.9,966.0 938.2,958.6 939.6,964.7 941.0,961.3 942.4,963.3 943.8,959.5 945.1,960.3 946.5,967.2 947.9,962.4 949.2,961.6 950.6,960.0 952.0,961.4 953.4,956.1 954.8,953.5 956.1,952.5 957.5,949.3 958.9,947.9 960.2,947.5 961.6,945.4 963.0,943.2 964.4,948.3 965.8,938.1 967.1,934.4 968.5,927.9 969.9,923.0 971.2,917.2 972.6,915.2 974.0,906.8 975.4,905.6 976.8,906.8 978.1,903.5 979.5,899.0 980.9,890.7 982.2,890.0 983.6,880.7 985.0,881.0 986.4,871.3 987.8,867.8 989.1,866.0 990.5,857.0 991.9,854.5 993.2,843.8 994.6,837.0 996.0,836.9 997.4,833.9 998.8,825.0 1000.1,818.6 1001.5,807.8 1002.9,805.6 1004.2,803.1 1005.6,798.4 1007.0,795.9 1008.4,792.7 1009.8,795.2 1011.1,794.9 1012.5,793.4 1013.9,791.7 1015.2,787.3 1016.6,793.2 1018.0,788.6 1019.4,788.2 1020.8,789.7 1022.1,784.5 1023.5,790.7 1024.9,792.1 1026.2,794.7 1027.6,801.5 1029.0,810.9 1030.4,813.5 1031.8,822.3 1033.1,829.4 1034.5,839.2 1035.9,844.9 1037.2,851.7 1038.6,863.8 1040.0,870.3 1041.4,877.1 1042.8,882.3 1044.1,897.6 1045.5,894.3 1046.9,906.7 1048.2,918.9 1049.6,920.2 1051.0,927.0 1052.4,929.7 1053.8,941.3 1055.1,941.5 1056.5,950.3 1057.9,955.0 1059.2,957.8 1060.6,968.2 1062.0,969.4 1063.4,976.3 1064.8,980.8 1066.1,983.0 1067.5,987.9 1068.9,992.0 1070.2,992.3 1071.6,994.8 1073.0,997.9 1074.4,1000.7 1075.8,1005.7 1077.1,1005.9 1078.5,1009.8 1079.9,1011.2 1081.2,1009.8 1082.6,1018.2 1084.0,1016.5 1085.4,1020.8 1086.8,1024.9 1088.1,1020.1 1089.5,1023.2 1090.9,1020.7 1092.2,1023.9 1093.6,1022.6 1095.0,1025.9 1096.4,1026.3 1097.8,1028.6 1099.1,1032.5 1100.5,1030.3 1101.9,1031.8 1103.2,1030.9 1104.6,1031.1 1106.0,1030.5 1107.4,1029.0 1108.8,1033.9 1110.1,1037.8 1111.5,1036.0 1112.9,1034.4 1114.2,1039.8 1115.6,1035.9 1117.0,1036.2 1118.4,1035.6 1119.8,1036.9 1121.1,1039.3 1122.5,1045.1 1123.9,1041.1 1125.2,1040.1 1126.6,1041.8 1128.0,1042.9 1129.4,1041.1 1130.8,1045.9 1132.1,1048.0 1133.5,1048.0 1134.9,1049.4 1136.2,1046.1 1137.6,1046.0 1139.0,1053.1 1140.4,1053.1 1141.8,1047.6 1143.1,1051.9 1144.5,1051.8 1145.9,1053.4 1147.2,1053.6 1148.6,1051.8 1150.0,1053.7 1151.4,1054.0 1152.8,1054.0 1154.1,1050.4 1155.5,1040.3 1156.9,1053.5 1158.2,1052.0 1159.6,1056.5 1161.0,1057.9 1162.4,1057.3 1163.8,1056.3 1165.1,1057.6 1166.5,1060.4 1167.9,1056.5 1169.2,1062.6 1170.6,1059.8 1172.0,1058.9 1173.4,1065.5 1174.8,1055.0 1176.1,1060.7 1177.5,1054.2 1178.9,1057.1 1180.2,1056.6 1181.6,1060.0 1183.0,1057.0 1184.4,1059.3 1185.8,1056.7 1187.1,1061.7 1188.5,1068.3 1189.9,1060.0 1191.2,1063.2 1192.6,1060.9 1194.0,1064.6 1195.4,1060.1 1196.8,1056.5 1198.1,1063.4 1199.5,1060.0 1200.9,1058.1 1202.2,1059.1 1203.6,1057.1 1205.0,1060.4 1206.4,1058.6 1207.8,1064.4 1209.1,1062.7 1210.5,1057.7 1211.9,1058.2 1213.2,1060.4 1214.6,1057.5 1216.0,1061.7 1217.4,1062.0 1218.8,1060.5 1220.1,1061.1 1221.5,1063.6 1222.9,1065.7 1224.2,1066.0 1225.6,1063.0 1227.0,1064.9 1228.4,1061.6 1229.8,1064.2 1231.1,1061.3 1232.5,1065.2 1233.9,1061.0 1235.2,1061.8 1236.6,1064.0 1238.0,1065.2 1239.4,1060.8 1240.8,1062.8 1242.1,1064.3 1243.5,1064.5 1244.9,1062.2 1246.2,1064.5 1247.6,1063.4 1249.0,1067.1 1250.4,1065.2 1251.8,1061.1 1253.1,1059.2 1254.5,1064.2 1255.9,1069.7 1257.2,1064.4 1258.6,1068.3 1260.0,1062.9 1261.4,1057.4 1262.8,1065.6 1264.1,1064.2 1265.5,1065.5 1266.9,1057.3 1268.2,1064.4 1269.6,1062.6 1271.0,1065.8 1272.4,1062.7 1273.8,1062.7 1275.1,1061.2 1276.5,1066.8 1277.9,1064.1 1279.2,1062.3 1280.6,1061.8 1282.0,1061.7 1283.4,1067.2 1284.8,1060.0 1286.1,1062.1 1287.5,1065.4 1288.9,1066.6 1290.2,1063.7 1291.6,1065.9 1293.0,1065.9 1294.4,1066.5 1295.8,1064.6 1297.1,1068.2 1298.5,1065.2 1299.9,1068.2 1301.2,1062.5 1302.6,1067.2 1304.0,1062.4 1305.4,1062.0 1306.8,1066.5 1308.1,1063.7 1309.5,1066.7 1310.9,1063.4 1312.2,1069.4 1313.6,1066.0 1315.0,1063.7 1316.4,1067.2 1317.8,1068.3 1319.1,1064.8 1320.5,1067.7 1321.9,1071.2 1323.2,1068.8 1324.6,1066.6 1326.0,1063.4 1327.4,1066.6 1328.8,1061.4 1330.1,1057.4 1331.5,1062.0 1332.9,1060.5 1334.2,1066.1 1335.6,1061.9 1337.0,1058.8 1338.4,1057.8 1339.8,1060.8 1341.1,1057.3 1342.5,1057.6 1343.9,1058.4 1345.2,1058.5 1346.6,1058.2 1348.0,1058.0 1349.4,1060.3 1350.8,1060.9 1352.1,1053.3 1353.5,1062.3 1354.9,1056.7 1356.2,1058.8 1357.6,1054.2 1359.0,1056.3 1360.4,1055.8 1361.8,1055.3 1363.1,1056.6 1364.5,1055.9 1365.9,1052.0 1367.2,1053.8 1368.6,1055.8 1370.0,1055.7 1371.4,1052.7 1372.8,1053.5 1374.1,1053.8 1375.5,1051.7 1376.9,1051.3 1378.2,1057.6 1379.6,1053.3 1381.0,1054.8 1382.4,1052.5 1383.8,1057.0 1385.1,1062.8 1386.5,1053.7 1387.9,1055.3 1389.2,1052.5 1390.6,1058.0 1392.0,1056.2 1393.4,1052.3 1394.8,1056.9 1396.1,1055.0 1397.5,1055.1 1398.9,1055.0 1400.2,1052.7 1401.6,1053.0 1403.0,1055.5 1404.4,1054.1 1405.8,1052.1 1407.1,1058.6 1408.5,1053.7 1409.9,1053.0 1411.2,1052.7 1412.6,1055.8 1414.0,1059.2 1415.4,1054.9 1416.8,1056.3 1418.1,1051.1 1419.5,1053.6 1420.9,1053.5 1422.2,1054.5 1423.6,1055.7 1425.0,1050.1 1426.4,1070.0 1427.8,1052.8 1429.1,1055.5 1430.5,1056.6 1431.9,1056.7 1433.2,1055.4 1434.6,1048.5 1436.0,1052.5 1437.4,1056.6 1438.8,1053.0 1440.1,1052.7 1441.5,1049.9 1442.9,1057.8 1444.2,1056.3 1445.6,1053.4 1447.0,1055.2 1448.4,1055.3 1449.8,1053.2 1451.1,1055.2 1452.5,1056.5 1453.9,1057.2 1455.2,1058.9 1456.6,1056.3 1458.0,1055.4 1459.4,1057.4 1460.8,1055.2 1462.1,1054.0 1463.5,1059.4 1464.9,1056.1 1466.2,1057.7 1467.6,1058.6 1469.0,1054.9 1470.4,1058.9 1471.8,1058.6 1473.1,1057.5 1474.5,1058.7 1475.9,1056.3 1477.2,1053.2 1478.6,1057.5 1480.0,1056.2 1481.4,1060.2 1482.8,1059.0 1484.1,1057.3 1485.5,1058.7 1486.9,1061.6 1488.2,1061.2 1489.6,1060.6 1491.0,1059.8 1492.4,1058.4 1493.8,1058.8 1495.1,1060.4 1496.5,1059.0 1497.9,1060.0 1499.2,1056.9 1500.6,1051.4 1502.0,1055.6 1503.4,1058.4 1504.8,1062.2 1506.1,1061.9 1507.5,1054.5 1508.9,1055.8 1510.2,1060.9 1511.6,1060.1 1513.0,1056.1 1514.4,1061.4 1515.8,1059.4 1517.1,1061.9 1518.5,1059.7 1519.9,1060.9 1521.2,1059.6 1522.6,1056.7 1524.0,1058.3 1525.4,1057.3 1526.8,1060.6 1528.1,1056.5 1529.5,1055.3 1530.9,1060.1 1532.2,1061.1 1533.6,1061.7 1535.0,1061.0 1536.4,1055.3 1537.8,1057.2 1539.1,1057.5 1540.5,1058.8 1541.9,1054.1 1543.2,1058.9 1544.6,1059.6 1546.0,1057.0 1547.4,1059.4 1548.8,1061.8 1550.1,1059.3 1551.5,1061.6 1552.9,1061.6 1554.2,1060.3 1555.6,1060.3 1557.0,1058.7 1558.4,1062.3 1559.8,1058.6 1561.1,1058.2 1562.5,1061.3 1563.9,1058.2 1565.2,1060.8 1566.6,1062.3 1568.0,1060.2 1569.4,1060.2 1570.8,1061.9 1572.1,1061.5 1573.5,1052.4 1574.9,1056.8 1576.2,1062.6 1577.6,1060.5 1579.0,1055.0 1580.4,1056.5 1581.8,1059.5 1583.1,1057.2 1584.5,1060.3 1585.9,1059.4 1587.2,1060.3 1588.6,1056.6 1590.0,1060.4 1591.4,1063.3 1592.8,1057.2 1594.1,1061.8 1595.5,1061.0 1596.9,1060.2 1598.2,1058.6 1599.6,1056.1 1601.0,1054.4 1602.4,1060.2 1603.8,1060.7 1605.1,1061.3 1606.5,1060.8 1607.9,1060.7 1609.2,1057.8 1610.6,1056.1 1612.0,1059.3 1613.4,1060.0 1614.8,1059.1 1616.1,1055.6 1617.5,1057.8 1618.9,1055.8 1620.2,1059.4 1621.6,1056.8 1623.0,1058.7 1624.4,1059.9 1625.8,1059.5 1627.1,1062.2 1628.5,1056.8 1629.9,1054.5 1631.2,1061.4 1632.6,1062.5 1634.0,1062.6 1635.4,1060.1 1636.8,1060.6 1638.1,1060.0 1639.5,1056.4 1640.9,1058.0 1642.2,1060.2 1643.6,1057.8 1645.0,1063.2 1646.4,1055.6 1647.8,1056.9 1649.1,1061.3 1650.5,1057.4 1651.9,1056.2 1653.2,1055.6 1654.6,1056.9 1656.0,1061.8 1657.4,1059.3 1658.8,1060.9 1660.1,1057.1 1661.5,1060.1 1662.9,1058.4 1664.2,1056.0 1665.6,1057.0 1667.0,1058.4 1668.4,1060.4 1669.8,1057.7 1671.1,1058.4 1672.5,1061.2 1673.9,1054.5 1675.2,1049.8 1676.6,1060.0 1678.0,1055.6 1679.4,1053.9 1680.8,1054.1 1682.1,1052.3 1683.5,1055.0 1684.9,1051.2 1686.2,1053.1 1687.6,1048.1 1689.0,1048.1 1690.4,1049.3 1691.8,1047.2 1693.1,1050.9 1694.5,1046.6 1695.9,1044.7 1697.2,1045.5 1698.6,1043.1 1700.0,1040.0 1701.4,1040.1 1702.8,1040.1 1704.1,1040.0 1705.5,1041.3 1706.9,1043.1 1708.2,1042.3 1709.6,1045.0 1711.0,1043.8 1712.4,1040.6 1713.8,1044.6 1715.1,1043.6 1716.5,1040.0 1717.9,1041.7 1719.2,1043.4 1720.6,1042.2 1722.0,1043.2 1723.4,1041.8 1724.8,1042.5 1726.1,1040.2 1727.5,1041.7 1728.9,1040.1 1730.2,1042.4 1731.6,1037.1 1733.0,1041.6 1734.4,1043.6 1735.8,1042.1 1737.1,1040.8 1738.5,1041.9 1739.9,1038.8 1741.2,1038.7 1742.6,1039.6 1744.0,1040.0 1745.4,1042.3 1746.8,1038.1 1748.1,1044.9 1749.5,1036.4 1750.9,1038.0 1752.2,1039.6 1753.6,1042.1 1755.0,1038.1 1756.4,1034.6 1757.8,1040.1 1759.1,1039.0 1760.5,1036.6 1761.9,1036.6 1763.2,1037.2 1764.6,1038.9 1766.0,1040.0 1767.4,1035.2 1768.8,1043.4 1770.1,1038.1 1771.5,1037.3 1772.9,1039.6 1774.2,1038.3 1775.6,1043.2 1777.0,1040.5 1778.4,1037.3 1779.8,1037.2 1781.1,1037.0 1782.5,1037.3 1783.9,1039.6 1785.2,1036.7 1786.6,1041.6 1788.0,1037.9 1789.4,1037.8 1790.8,1040.2 1792.1,1033.7 1793.5,1036.0 1794.9,1039.4 1796.2,1038.1 1797.6,1038.1 1799.0,1039.0 1800.4,1036.8 1801.8,1037.7 1803.1,1035.1 1804.5,1034.0 1805.9,1040.9" fill="none" stroke="#2a00ff" stroke-width="3.4" stroke-linejoin="miter"/>
<rect x="56" y="23.5" width="1756" height="5.5" fill="#000"/>
<rect x="56" y="1300" width="1756" height="5" fill="#000"/>
<rect x="56" y="23.5" width="5.5" height="1281.5" fill="#000"/>
<rect x="61.5" y="29" width="2.5" height="1271" fill="#4d5a5a"/>
<rect x="1806.5" y="23.5" width="3" height="1281.5" fill="#000"/>
<rect x="1809.5" y="23.5" width="2.5" height="1281.5" fill="#999"/>
<rect x="493.0" y="1273" width="5" height="28" fill="#000"/><rect x="498.0" y="1274" width="2.5" height="26" fill="#667"/><rect x="930.5" y="1273" width="5" height="28" fill="#000"/><rect x="935.5" y="1274" width="2.5" height="26" fill="#667"/><rect x="1368.0" y="1273" width="5" height="28" fill="#000"/><rect x="1373.0" y="1274" width="2.5" height="26" fill="#667"/><rect x="275.2" y="1286" width="4" height="15" fill="#000"/><rect x="279.2" y="1287" width="2" height="13" fill="#566"/><rect x="712.8" y="1286" width="4" height="15" fill="#000"/><rect x="716.8" y="1287" width="2" height="13" fill="#566"/><rect x="1150.2" y="1286" width="4" height="15" fill="#000"/><rect x="1154.2" y="1287" width="2" height="13" fill="#566"/><rect x="1587.8" y="1286" width="4" height="15" fill="#000"/><rect x="1591.8" y="1287" width="2" height="13" fill="#566"/>
<text x="58.3" y="1369.5" text-anchor="middle" class="tl">500</text><text x="496.5" y="1369.5" text-anchor="middle" class="tl">1000</text><text x="933.0" y="1369.5" text-anchor="middle" class="tl">1500</text><text x="1371.0" y="1369.5" text-anchor="middle" class="tl">2000</text><text x="1807.5" y="1369.5" text-anchor="middle" class="tl">2500</text>
<text x="696.6" y="129.5" class="pk">1366</text>
<text x="948" y="129.5" class="pk">1581</text>
<text transform="translate(1373.6,408) scale(0.97,1)" class="lb">P</text><text x="1416.9" y="432.3" style="font-size:36px">5</text><text transform="translate(1436.6,408) scale(0.97,1)" class="lb">PSQ-PLA-C</text>
<text transform="translate(1414,703.5) scale(0.97,1)" class="lb">PSQ-PLA-C</text>
<text transform="translate(1494.7,1008) scale(0.97,1)" class="lb">PLA-C</text>
<text x="612.2" y="1527.7" class="ax">Wavenumber(cm<tspan dy="-34.5">-1</tspan><tspan dy="34.5" dx="3">)</tspan></text>
</svg>
</body></html>
